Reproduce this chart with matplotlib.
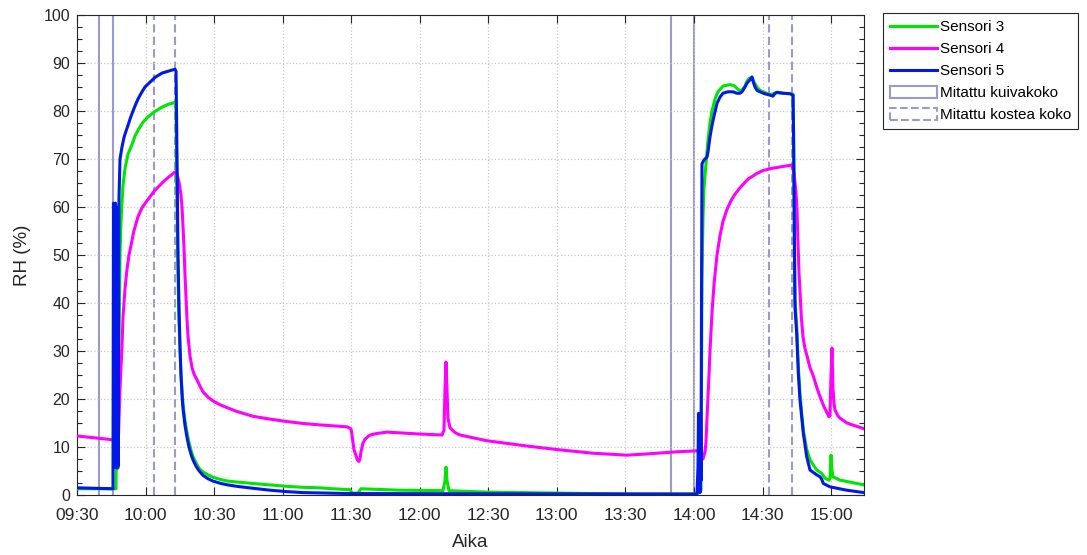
import matplotlib
matplotlib.use("Agg")
import matplotlib.pyplot as plt
from matplotlib.lines import Line2D
from matplotlib.patches import Patch
from matplotlib.ticker import MultipleLocator

plt.rcParams['font.family'] = ['Liberation Sans', 'DejaVu Sans']

# Time axis: minutes after 09:30
tick_minutes = [0, 30, 60, 90, 120, 150, 180, 210, 240, 270, 300, 330]
tick_labels = ['09:30', '10:00', '10:30', '11:00', '11:30', '12:00',
               '12:30', '13:00', '13:30', '14:00', '14:30', '15:00']

# Sensori 3 (green)
t3 = [0, 17.07, 17.51, 17.94, 18.38, 18.82, 19.25, 19.69, 20.13, 21.01,
      22.30, 24.07, 25.40, 26.70, 28.80, 31.07, 34.10, 37.20, 40.00, 42.89,
      43.33, 43.55, 43.76, 44.20, 44.64, 45.08, 45.51, 46.39, 47.26, 48.14,
      49.00, 49.90, 50.77, 52.10, 53.50, 55.14, 57.30, 59.52, 63.00, 66.00,
      70.02, 77.00, 84.46, 91.90, 98.91, 106.0, 112.0, 119.48, 120.35, 122.98,
      124.29, 141.36, 160.18, 161.05, 161.49, 161.93, 162.80, 179.43, 210.07, 240.70,
      271.33, 273.09, 273.52, 273.96, 274.40, 275.27, 276.15, 277.02, 277.90, 279.21,
      280.50, 282.71, 285.78, 287.50, 288.84, 290.15, 291.03, 292.30, 293.22, 294.10,
      295.40, 296.30, 297.59, 298.90, 300.22, 303.28, 306.35, 312.04, 313.35, 313.57,
      313.79, 314.00, 314.22, 314.97, 315.67, 316.41, 317.86, 319.34, 320.79, 323.72,
      325.90, 327.35, 329.10, 329.54, 329.98, 330.42, 330.85, 333.90, 344.42]
rh3 = [1.3, 1.3, 30, 5.6, 30, 50, 57, 61, 64.5, 68,
       71, 73, 74.8, 76, 77.6, 78.8, 79.9, 80.8, 81.4, 81.8,
       80, 72, 62, 46, 36, 30, 25, 19, 15.5, 13,
       11, 9.3, 8, 6.7, 5.5, 4.8, 4.2, 3.7, 3.2, 2.9,
       2.7, 2.4, 2.1, 1.8, 1.6, 1.5, 1.3, 1.1, 0.4, 0.4,
       1.3, 1.0, 0.9, 3, 5.8, 3, 0.9, 0.6, 0.4, 0.2,
       0.2, 1, 45, 58, 64, 69, 74, 77.5, 80, 82.5,
       84, 85.2, 85.5, 85.3, 84.7, 84.2, 84.3, 85.2, 86.2, 86.8,
       87, 86, 85, 84.3, 84, 83.4, 83.8, 83.6, 83.5, 77,
       66, 52, 41, 35, 27, 21, 13.5, 9.5, 7.3, 5.2,
       4.5, 3.5, 3.1, 3.5, 8.3, 5, 3.8, 3.1, 2.1]

# Sensori 4 (magenta)
t4 = [0, 15.75, 17.51, 17.94, 18.82, 19.69, 20.13, 21.01, 21.88, 22.75,
      24.07, 24.90, 26.70, 28.40, 30.63, 34.14, 38.51, 42.89, 43.76, 44.64,
      45.51, 45.95, 46.39, 46.83, 47.26, 47.70, 48.14, 48.60, 49.45, 50.30,
      51.20, 52.52, 53.80, 55.14, 57.30, 59.52, 62.60, 65.65, 70.00, 77.02,
      84.50, 91.90, 99.00, 106.35, 112.0, 118.16, 119.91, 120.35, 120.79, 121.20,
      122.10, 122.80, 123.41, 123.85, 124.29, 125.16, 126.00, 126.92, 128.23, 131.00,
      135.67, 150.11, 159.74, 160.61, 161.05, 161.49, 161.93, 162.36, 163.24, 165.43,
      167.61, 179.43, 196.94, 211.38, 225.82, 240.70, 247.70, 262.58, 271.33, 273.09,
      273.96, 274.84, 275.27, 275.71, 276.60, 277.02, 277.90, 278.80, 280.09, 281.40,
      282.71, 284.46, 286.20, 288.00, 290.15, 293.65, 297.59, 300.20, 304.60, 308.50,
      312.91, 313.79, 314.66, 315.10, 315.50, 316.00, 316.41, 317.00, 317.72, 318.60,
      319.48, 320.80, 322.10, 323.70, 325.16, 327.00, 329.10, 329.54, 329.98, 330.42,
      330.85, 331.30, 331.73, 333.00, 333.92, 336.98, 340.00, 344.42]
rh4 = [12.3, 11.5, 11.0, 9.4, 22, 31, 37, 43, 47, 50,
       53, 55, 58, 59.8, 61.3, 63.5, 65.6, 67.3, 66.8, 65.2,
       62.5, 60, 56, 51.5, 46, 41, 36.5, 33, 29, 26.6,
       25.2, 24, 22.7, 21.5, 20.4, 19.6, 18.8, 18.2, 17.4, 16.4,
       15.8, 15.3, 14.9, 14.6, 14.4, 14.2, 13.8, 12.5, 11, 9.5,
       8.2, 7.2, 7.0, 7.6, 9, 10.8, 11.6, 12, 12.5, 12.8,
       13.1, 12.7, 12.5, 13.5, 22, 27.7, 22, 16, 14, 13,
       12.5, 11.3, 10.2, 9.4, 8.7, 8.3, 8.5, 9.0, 9.2, 9.2,
       7.5, 9, 11, 16, 25, 30, 38, 44, 50, 54,
       57, 59.5, 61.3, 62.7, 64, 65.8, 67, 67.6, 68.1, 68.4,
       68.75, 67, 63, 59.5, 53, 46, 42.5, 37, 33, 30.5,
       29, 26.5, 25, 22.5, 20.5, 18.3, 16.3, 16.5, 25, 30.6,
       22, 19, 17.7, 16.5, 16, 15, 14.5, 13.8]

# Sensori 5 (blue)
t5 = [0, 15.75, 15.97, 16.19, 16.41, 16.63, 16.85, 17.07, 17.29, 17.51,
      17.72, 17.94, 18.38, 18.82, 19.69, 20.57, 21.44, 22.32, 23.40, 24.51,
      25.60, 26.70, 28.20, 29.76, 31.90, 34.14, 37.20, 40.70, 42.89, 43.33,
      43.55, 43.76, 43.98, 44.20, 44.64, 45.08, 45.51, 46.00, 46.39, 47.26,
      48.14, 49.00, 49.90, 50.77, 52.10, 53.50, 55.14, 57.30, 59.52, 63.00,
      66.00, 70.02, 77.00, 84.46, 91.90, 98.91, 119.48, 185.12, 271.33, 271.77,
      271.99, 272.21, 272.43, 272.65, 272.87, 273.09, 273.31, 273.52, 274.40, 275.71,
      276.15, 277.02, 277.90, 278.80, 280.09, 281.40, 282.71, 284.90, 287.09, 288.80,
      290.15, 291.00, 292.34, 293.20, 294.53, 295.40, 296.00, 296.72, 297.60, 298.91,
      301.00, 303.28, 304.60, 305.50, 306.35, 309.00, 312.04, 313.35, 313.57, 313.79,
      314.00, 314.22, 314.97, 315.67, 316.41, 317.86, 319.34, 320.79, 323.72, 325.16,
      325.90, 326.61, 329.54, 336.85, 344.42]
rh5 = [1.5, 1.3, 60.8, 6, 60, 5.8, 60.8, 6, 60, 5.6,
       59, 6, 62, 70, 72.5, 74.5, 75.8, 77, 78.6, 80,
       81.3, 82.5, 83.8, 85, 86, 87, 87.9, 88.4, 88.7, 88.3,
       80, 70, 60, 50, 39, 31, 25, 20.5, 18, 14.5,
       12, 10, 8.5, 7.3, 6, 5, 4.1, 3.4, 2.9, 2.4,
       2.1, 1.8, 1.4, 1.0, 0.7, 0.5, 0.3, 0.25, 0.2, 5.8,
       17, 1, 17, 0.5, 16, 3, 40, 69, 69.8, 70.4,
       71.5, 74.6, 77, 79, 81.6, 82.9, 83.7, 84, 84, 83.7,
       83.7, 84, 85, 85.8, 86.5, 87.1, 86, 85, 84.3, 84,
       83.6, 83.3, 83.1, 83.7, 83.9, 83.7, 83.6, 83.3, 76, 64,
       50, 39, 33.7, 25.4, 19.8, 12.9, 8, 5.2, 4.2, 3.8,
       3.3, 2.4, 1.7, 1.0, 0.5]

# Measurement instants (minutes after 09:30)
dry_times = [9.76, 15.62, 259.82, 270.02]     # Mitattu kuivakoko
wet_times = [33.83, 42.89, 302.84, 313.04]    # Mitattu kostea koko

series_names = ['Sensori 3', 'Sensori 4', 'Sensori 5']
series_colors = ['#00e600', '#ff00ff', '#0019e6']
marker_names = ['Mitattu kuivakoko', 'Mitattu kostea koko']
marker_color = '#9a9acc'

W, H = 1087, 555
fig = plt.figure(figsize=(W / 100, H / 100), dpi=100)
ax = fig.add_axes([77 / W, 60 / H, (864 - 77) / W, 480 / H])

for tv in dry_times:
    ax.axvline(tv, color=marker_color, lw=1.5, ls='-', zorder=1.5)
for tv in wet_times:
    ax.axvline(tv, color=marker_color, lw=1.5, ls=(0, (4, 2)), zorder=1.5)

for tt, rr, c in zip([t3, t4, t5], [rh3, rh4, rh5], series_colors):
    ax.plot(tt, rr, color=c, lw=2.2, zorder=3, solid_joinstyle='round')

ax.set_xlim(0, 344.42)
ax.set_ylim(0, 100)
ax.set_xticks(tick_minutes)
ax.set_xticklabels(tick_labels)
ax.set_yticks(range(0, 101, 10))
ax.yaxis.set_minor_locator(MultipleLocator(2.5))
ax.tick_params(axis='both', which='both', direction='in', top=True, right=True,
               color='#262626', labelcolor='#262626')
ax.tick_params(axis='x', which='major', length=6, width=0.8, pad=9, labelsize=12.5)
ax.tick_params(axis='y', which='major', length=6, width=0.8, pad=5, labelsize=11.5)
ax.tick_params(axis='y', which='minor', length=3.5, width=0.8)
ax.tick_params(axis='x', which='minor', bottom=False, top=False)
ax.grid(True, which='major', ls=':', color='#c8c8c8', lw=0.9, zorder=0)
for s in ax.spines.values():
    s.set_color('#262626')
    s.set_linewidth(0.8)

ax.set_xlabel('Aika', fontsize=13.5, color='#262626', labelpad=8)
ax.set_ylabel('RH (%)', fontsize=13.5, color='#262626', labelpad=9)

handles = [Line2D([], [], color=c, lw=2.2) for c in series_colors]
handles += [Patch(facecolor='none', edgecolor=marker_color, lw=1.5, ls='-'),
            Patch(facecolor='none', edgecolor=marker_color, lw=1.5, ls='--')]
leg = fig.legend(handles, series_names + marker_names, loc='upper left',
                 bbox_to_anchor=(883 / W, 1 - 13 / H), bbox_transform=fig.transFigure,
                 borderaxespad=0, fancybox=False, edgecolor='#262626', framealpha=1,
                 fontsize=11, handlelength=3.1, handleheight=0.9, handletextpad=0.15,
                 labelspacing=0.48, borderpad=0.45)
leg.get_frame().set_linewidth(0.8)

fig.savefig('out.png', dpi=100)
